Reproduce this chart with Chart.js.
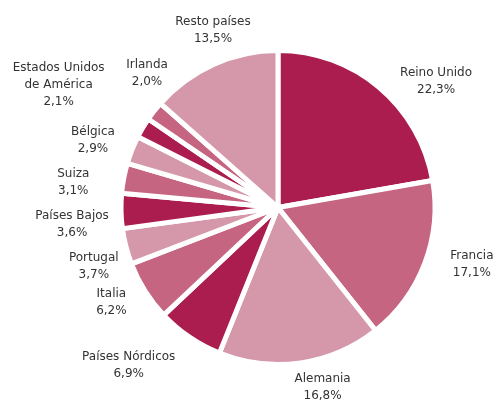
<!DOCTYPE html>
<html lang="es">
<head>
<meta charset="UTF-8">
<title>Distribución por países</title>
<script src="https://cdn.jsdelivr.net/npm/chart.js"></script>
<style>
    html, body { margin: 0; padding: 0; background: #fff; }
    #wrap { width: 495px; height: 401px; position: relative; }
</style>
</head>
<body>
<div id="wrap"><canvas id="pieChart"></canvas></div>
<script>
    // datos (sentido horario desde arriba)
    const paises = ['Reino Unido', 'Francia', 'Alemania', 'Países Nórdicos', 'Italia', 'Portugal',
        'Países Bajos', 'Suiza', 'Bélgica', 'Estados Unidos\nde América', 'Irlanda', 'Resto países'];
    const porcentajes = [22.3, 17.1, 16.8, 6.9, 6.2, 3.7, 3.6, 3.1, 2.9, 2.1, 2.0, 13.5];

    const oscuro = '#AB1D4E';
    const medio = '#C56581';
    const claro = '#D598AB';
    const colores = [oscuro, medio, claro, oscuro, medio, claro, oscuro, medio, claro, oscuro, medio, claro];

    // desplazamiento de cada etiqueta respecto a su punto radial
    const ajusteEtiquetas = [[39, 15], [21, -9], [18, -3], [-45, 5], [-10, -4], [-5, 13],
        [-21, 13], [-23, 9], [-13, 1], [-60, -29], [15, -20], [11, -8]];

    function formatPct(v) {
        return v.toFixed(1).replace('.', ',') + '%';
    }

    const etiquetasPlugin = {
        id: 'etiquetas',
        afterDraw(chart) {
            const ctx = chart.ctx;
            const arcs = chart.getDatasetMeta(0).data;
            ctx.save();
            ctx.font = '12px "DejaVu Sans", Verdana, sans-serif';
            ctx.fillStyle = '#333333';
            ctx.textAlign = 'center';
            ctx.textBaseline = 'middle';
            arcs.forEach((arc, i) => {
                const p = arc.getProps(['x', 'y', 'startAngle', 'endAngle', 'outerRadius']);
                const mid = (p.startAngle + p.endAngle) / 2;
                const d = p.outerRadius + 28;
                const cx = p.x + Math.cos(mid) * d + ajusteEtiquetas[i][0];
                const cy = p.y + Math.sin(mid) * d + ajusteEtiquetas[i][1];
                const lines = paises[i].split('\n').concat([formatPct(porcentajes[i])]);
                const lh = 17;
                const top = cy - (lines.length - 1) * lh / 2;
                lines.forEach((l, k) => ctx.fillText(l, cx, top + k * lh));
            });
            ctx.restore();
        }
    };

    new Chart(document.getElementById('pieChart'), {
        type: 'pie',
        data: {
            labels: paises,
            datasets: [{
                data: porcentajes,
                backgroundColor: colores,
                borderColor: '#ffffff',
                borderWidth: 5,
                hoverOffset: 0
            }]
        },
        options: {
            responsive: true,
            maintainAspectRatio: false,
            animation: false,
            radius: 157,
            layout: { padding: { left: 123, right: 62, top: 52, bottom: 38 } },
            plugins: {
                legend: { display: false },
                tooltip: { enabled: false }
            }
        },
        plugins: [etiquetasPlugin]
    });
</script>
</body>
</html>
